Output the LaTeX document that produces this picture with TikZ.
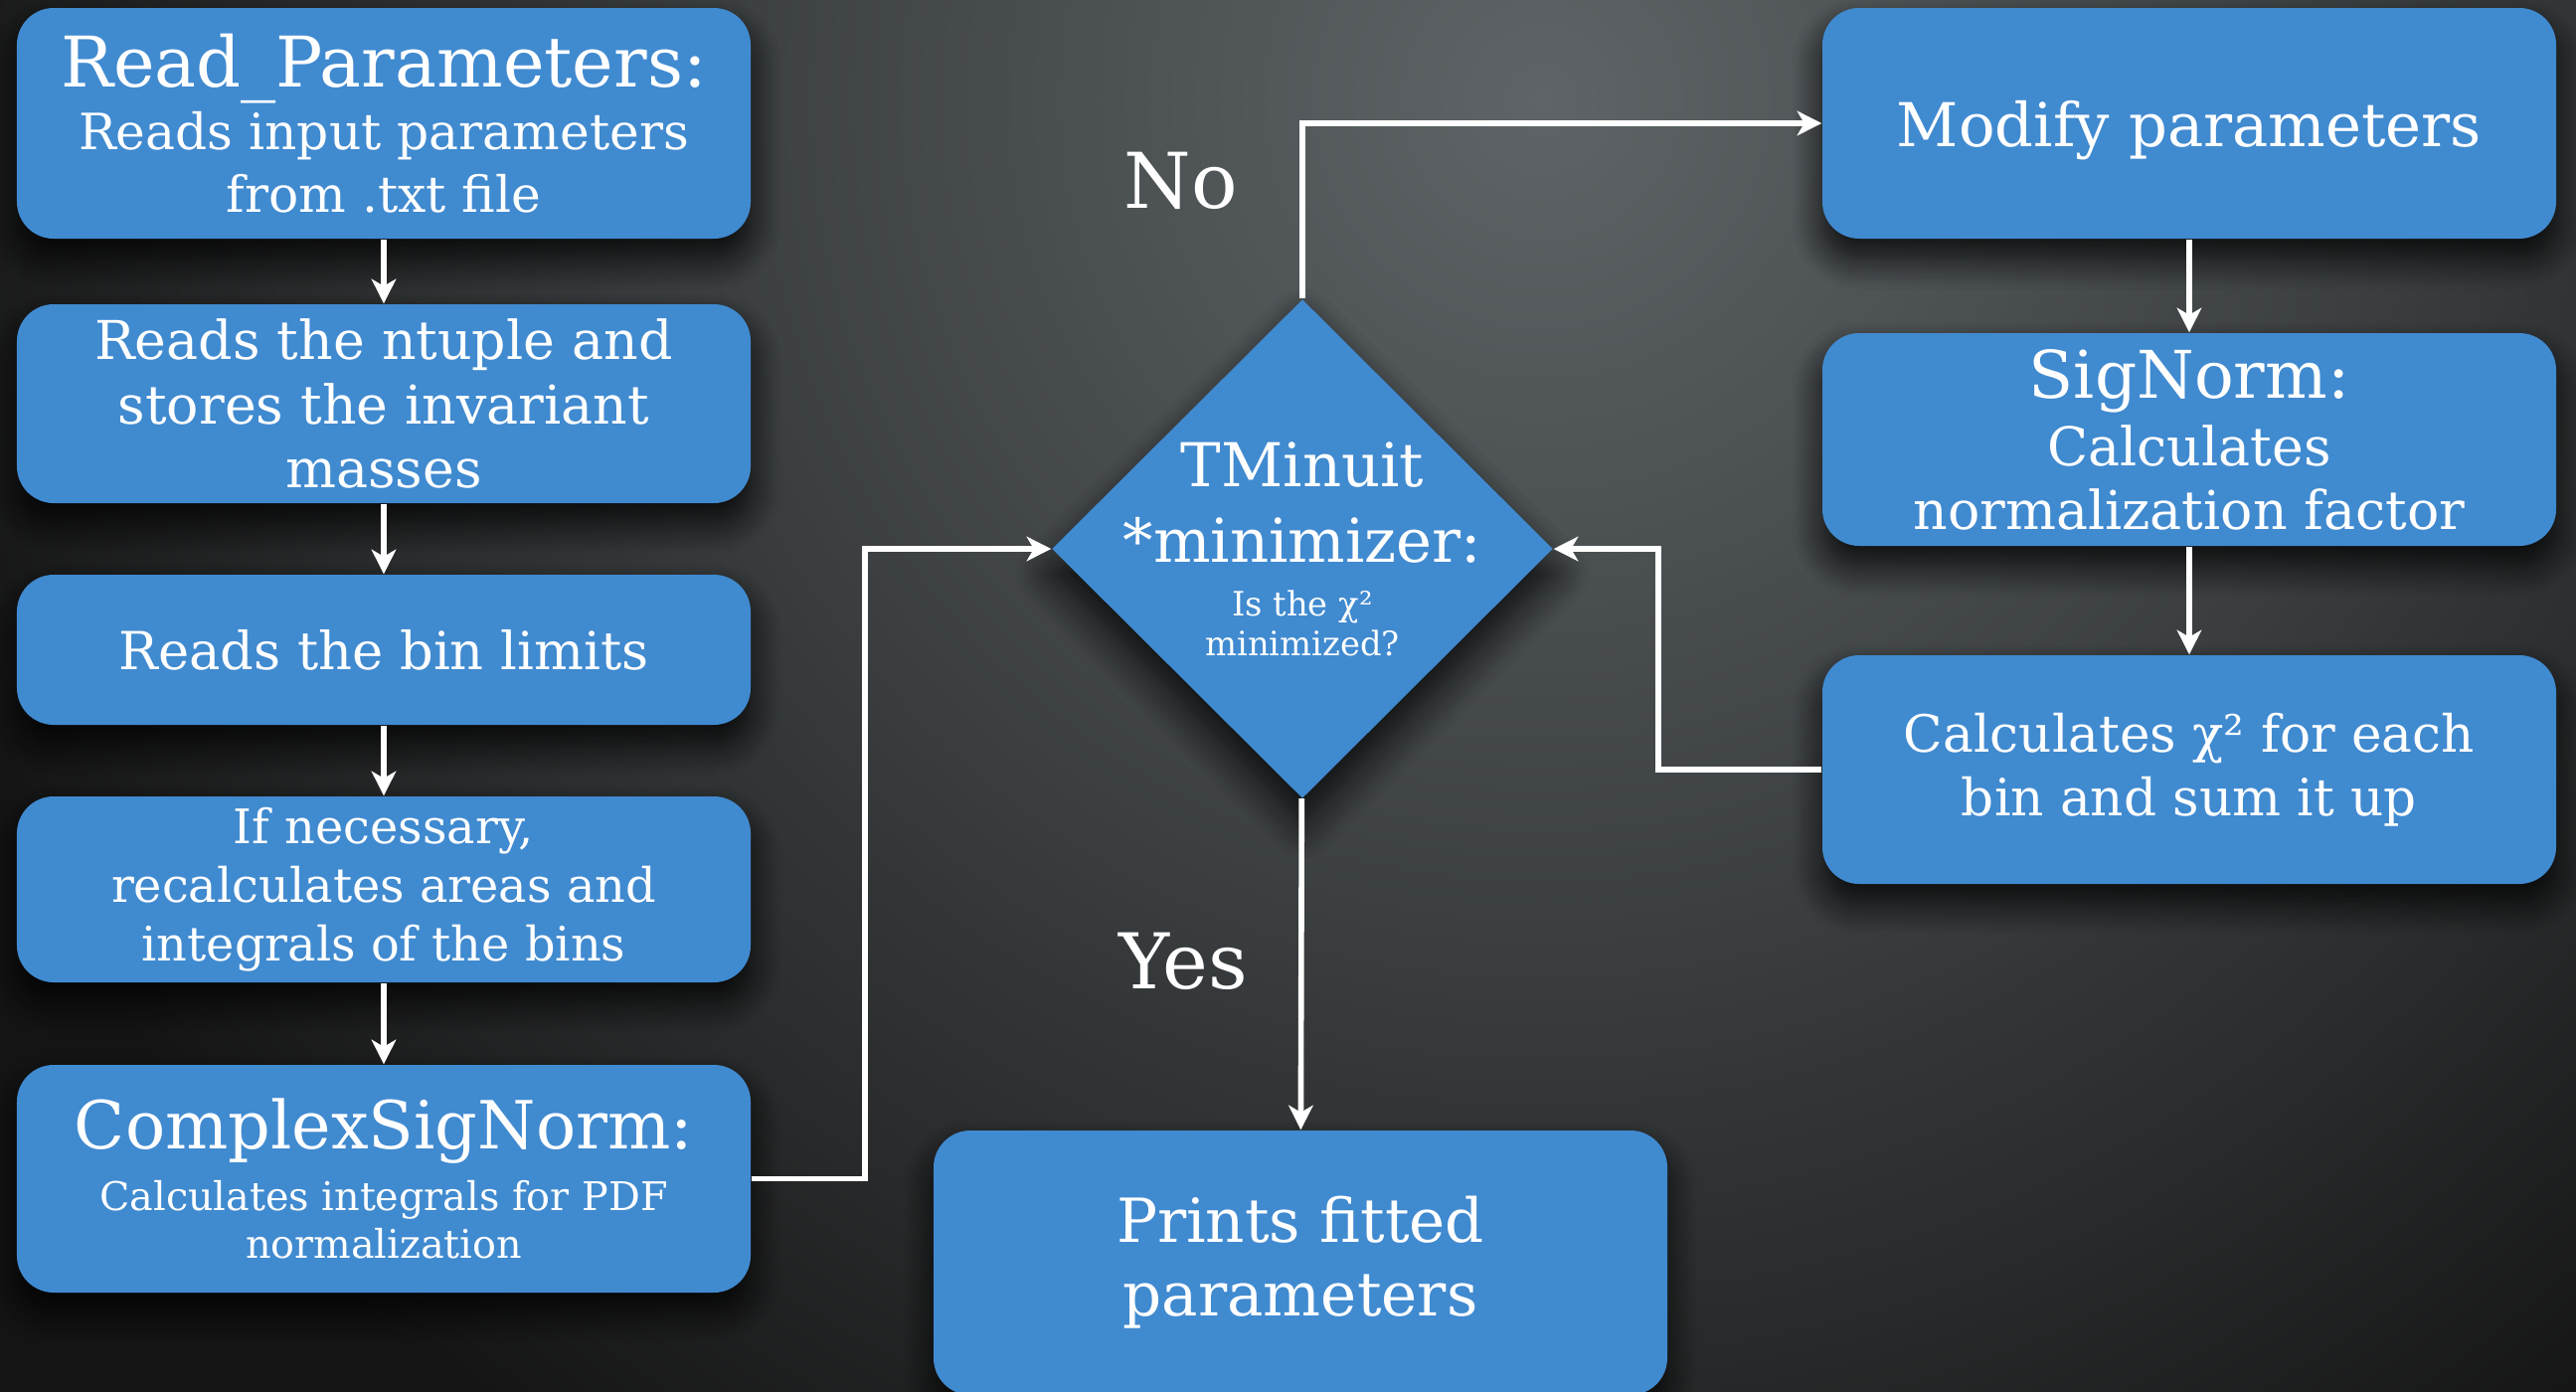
\documentclass[tikz,border=0pt]{standalone}
\usepackage{fontspec}
\setmainfont{DejaVu Serif}
\usetikzlibrary{arrows.meta, positioning, shapes.geometric, shadows.blur}

\definecolor{boxblue}{HTML}{408AD0}
\definecolor{bglight}{HTML}{5E6467}
\definecolor{bgmid}{HTML}{3C4042}
\definecolor{bgdark}{HTML}{141414}
\pgfdeclareradialshading{bgglow}{\pgfpoint{0bp}{0bp}}{color(0bp)=(bglight); color(12bp)=(bgmid); color(25bp)=(bgdark); color(50bp)=(bgdark)}

\newcommand{\ttlfont}{\fontsize{19}{23}\selectfont}
\newcommand{\bigfont}{\fontsize{17.3}{21}\selectfont}
\newcommand{\smlfont}{\fontsize{11.3}{13.7}\selectfont}
\newcommand{\tinyfont}{\fontsize{9.6}{11.3}\selectfont}

\begin{document}
\begin{tikzpicture}[
  font=\fontsize{14.3}{18}\selectfont, text=white,
  box/.style={fill=boxblue, rounded corners=0.37cm, minimum width=7.38cm,
              align=center, inner sep=2pt,
              blur shadow={shadow xshift=0pt, shadow yshift=-0.2cm,
                           shadow blur radius=0.3cm,
                           shadow opacity=85, shadow blur steps=14}},
  dec/.style={diamond, fill=boxblue, aspect=1, inner sep=0pt,
              minimum width=5.04cm, minimum height=5.02cm,
              blur shadow={shadow xshift=0pt, shadow yshift=-0.25cm,
                           shadow blur radius=0.35cm,
                           shadow opacity=85, shadow blur steps=14}},
  arr/.style={-{Stealth[length=7pt, width=7pt, inset=2pt]}, white,
              line width=1.6pt},
  lbl/.style={font=\fontsize{22}{26}\selectfont}
]
\useasboundingbox (0,0) rectangle (25.91,-13.99);
\clip (-0.1,0.1) rectangle (26.01,-14.09);
\fill[bgdark] (-0.1,0.1) rectangle (26.01,-14.09);
\shade[shading=bgglow] (15.5,-1) circle (17);

% left column
\node[box, minimum height=2.32cm] (readpar) at (3.86,-1.24)
  {{\fontsize{20}{24}\selectfont Read\_Parameters:}\\ Reads input parameters\\ from .txt file};
\node[box, minimum height=2.00cm, font=\fontsize{15.3}{18.3}\selectfont] (ntuple) at (3.86,-4.06)
  {Reads the ntuple and\\ stores the invariant\\ masses};
\node[box, minimum height=1.51cm, font=\fontsize{15}{18}\selectfont] (binlim) at (3.86,-6.535)
  {Reads the bin limits};
\node[box, minimum height=1.87cm, font=\fontsize{13.6}{16.7}\selectfont] (recalc) at (3.86,-8.945)
  {If necessary,\\ recalculates areas and\\ integrals of the bins};
\node[box, minimum height=2.29cm, font=\smlfont] (cplxnorm) at (3.86,-11.855)
  {{\ttlfont ComplexSigNorm:}\\[4pt] Calculates integrals for PDF\\ normalization};

% decision
\node[dec] (tminuit) at (13.10,-5.52) {};
\node[align=center] (tmintxt) at (tminuit.center)
  {{\bigfont TMinuit}\\[3.6pt] {\bigfont *minimizer:}\\[-2.5pt]
   {\tinyfont Is the χ²}\\[-6.7pt] {\tinyfont minimized?}};

% right column
\node[box, minimum height=2.32cm, text depth=0pt] (modpar) at (22.02,-1.24)
  {\bigfont Modify parameters};
\node[box, minimum height=2.14cm, font=\fontsize{15.3}{18}\selectfont] (signorm) at (22.02,-4.42)
  {{\fontsize{18.8}{22}\selectfont SigNorm:}\\[1.5pt] Calculates\\ normalization factor};
\node[box, minimum height=2.30cm, font=\fontsize{14.7}{18.3}\selectfont] (chisq) at (22.02,-7.74)
  {Calculates χ² for each\\ bin and sum it up};

\node[box, minimum height=2.66cm, font=\fontsize{17.4}{21}\selectfont] (prtfit) at (13.08,-12.70)
  {Prints fitted\\ parameters};

\node[lbl] (nolbl) at (11.88,-1.82) {No};
\node[lbl] (yeslbl) at (11.90,-9.67) {Yes};

\draw[arr] (readpar) -- (ntuple);
\draw[arr] (ntuple) -- (binlim);
\draw[arr] (binlim) -- (recalc);
\draw[arr] (recalc) -- (cplxnorm);
\draw[arr] (cplxnorm.east) -- ++(1.14,0) |- (tminuit.west);
\draw[arr] (tminuit.north) |- (modpar.west);
\draw[arr] (modpar) -- (signorm);
\draw[arr] (signorm) -- (chisq);
\draw[arr] (chisq.west) -- ++(-1.64,0) |- (tminuit.east);
\draw[arr] (tminuit) -- (prtfit);
\end{tikzpicture}
\end{document}
